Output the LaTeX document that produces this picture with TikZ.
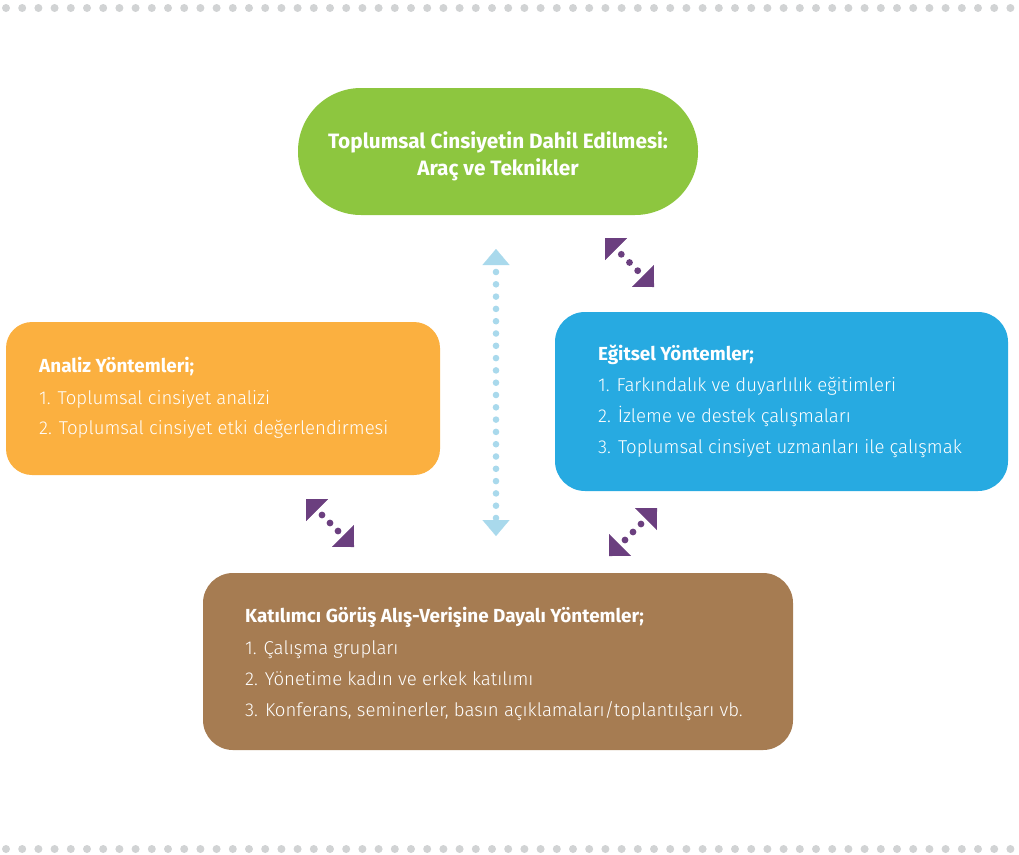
\documentclass[tikz,border=0pt]{standalone}
\usepackage{fontspec}
\setmainfont{Fira Sans}
\newfontfamily\lightfont{Fira Sans Light}
\usetikzlibrary{arrows.meta,calc}
\definecolor{cgreen}{HTML}{8DC63F}
\definecolor{corange}{HTML}{FBB040}
\definecolor{cblue}{HTML}{27AAE1}
\definecolor{cbrown}{HTML}{A67C52}
\definecolor{cpurple}{HTML}{6B3F7F}
\definecolor{clblue}{HTML}{A9D9EC}
\definecolor{cgray}{HTML}{D1D3D4}
\tikzset{
  box/.style={draw=none, inner sep=0pt},
  head/.style={text=white, inner sep=0pt, anchor=base west, font=\fontsize{18.9}{22}\selectfont\bfseries},
  item/.style={text=white, inner sep=0pt, anchor=base west, font=\lightfont\fontsize{18.6}{22}\selectfont},
  title/.style={text=white, inner sep=0pt, anchor=base, font=\fontsize{20.8}{24}\selectfont\bfseries},
  ptip/.style={draw=cpurple, line width=0.1pt, -{Triangle[length=15.6pt,width=31pt]}},
  btip/.style={draw=clblue, line width=0.1pt, -{Triangle[length=16pt,width=27pt]}},
  pdot/.style={fill=cpurple, draw=none},
  bdot/.style={fill=clblue, draw=none},
}
\begin{document}
\begin{tikzpicture}[x=1pt,y=-1pt]
\useasboundingbox (0,0) rectangle (1019,854);
% gray dotted borders
\foreach \k in {0,...,62} {
  \fill[cgray] (6+16.2*\k,8) circle (4pt);
  \fill[cgray] (6+16.2*\k,849) circle (4pt);
}
% boxes
\node[box, fill=cgreen, minimum width=400pt, minimum height=127pt, rounded corners=63pt] (main) at (498,151.5) {};
\node[box, fill=corange, minimum width=434pt, minimum height=153pt, rounded corners=26pt] (analiz) at (223,398.5) {};
\node[box, fill=cblue, minimum width=453pt, minimum height=179pt, rounded corners=30pt] (egitsel) at (781.5,401.5) {};
\node[box, fill=cbrown, minimum width=590pt, minimum height=177pt, rounded corners=30pt] (katilim) at (498,661.5) {};
% title
\node[title] (t1) at (498,148) {Toplumsal Cinsiyetin Dahil Edilmesi:};
\node[title] (t2) at (498,175) {Araç ve Teknikler};
% orange
\node[head] (a0) at (39,372) {Analiz Yöntemleri;};
\node[item] (a1) at (39,404) {1. Toplumsal cinsiyet analizi};
\node[item] (a2) at (39,434) {2. Toplumsal cinsiyet etki değerlendirmesi};
% blue
\node[head] (e0) at (598,360) {Eğitsel Yöntemler;};
\node[item] (e1) at (598,391) {1. Farkındalık ve duyarlılık eğitimleri};
\node[item] (e2) at (598,422) {2. İzleme ve destek çalışmaları};
\node[item] (e3) at (598,453) {3. Toplumsal cinsiyet uzmanları ile çalışmak};
% brown
\node[head] (k0) at (245,622) {Katılımcı Görüş Alış-Verişine Dayalı Yöntemler;};
\node[item] (k1) at (245,654) {1. Çalışma grupları};
\node[item] (k2) at (245,685) {2. Yönetime kadın ve erkek katılımı};
\node[item] (k3) at (245,716) {3. Konferans, seminerler, basın açıklamaları/toplantılşarı vb.};
% connector end points
\coordinate (tra) at (605,238);
\coordinate (trb) at (654,287);
\coordinate (bla) at (306,499);
\coordinate (blb) at (354,547);
\coordinate (bra) at (657,508);
\coordinate (brb) at (609,556);
\coordinate (vt) at (496,249);
\coordinate (vb) at (496,536);
% purple arrows (dotted, heads at both ends)
\foreach \a/\b in {tra/trb, bla/blb, bra/brb} {
  \draw[ptip] ($(\a)!14pt!(\b)$) -- (\a);
  \draw[ptip] ($(\b)!14pt!(\a)$) -- (\b);
  \foreach \t in {0.333,0.5,0.667}
    \fill[pdot] ($(\a)!\t!(\b)$) circle (3.4pt);
}
% light blue vertical arrow
\draw[btip] ($(vt)!14pt!(vb)$) -- (vt);
\draw[btip] ($(vb)!14pt!(vt)$) -- (vb);
\foreach \k in {0,...,20}
  \fill[bdot] ($(vt)!{(23+12.3*\k)/287}!(vb)$) circle (3.3pt);
\end{tikzpicture}
\end{document}
